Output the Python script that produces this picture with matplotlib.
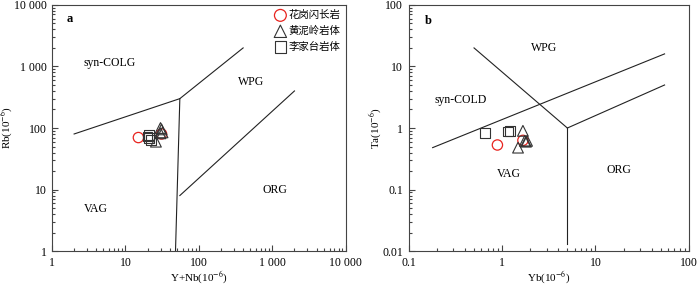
import matplotlib
matplotlib.use("Agg")
import matplotlib.pyplot as plt
from matplotlib.ticker import LogLocator, FixedLocator, NullFormatter

plt.rcParams['font.family'] = ['Liberation Serif', 'DejaVu Serif']
plt.rcParams['mathtext.fontset'] = 'stix'

# a: Rb vs Y+Nb
a_circle_x = [15, 31]
a_circle_y = [70, 80]
a_tri_x = [30, 31, 32, 26, 30]
a_tri_y = [100, 95, 85, 60, 82]
a_sq_x = [20, 21, 22, 21]
a_sq_y = [73, 68, 63, 76]

# b: Ta vs Yb
b_circle_x = [0.89, 1.67]
b_circle_y = [0.53, 0.63]
b_tri_x = [1.67, 1.75, 1.8, 1.85, 1.48]
b_tri_y = [0.9, 0.62, 0.6, 0.62, 0.48]
b_sq_x = [0.66, 1.15, 1.22]
b_sq_y = [0.84, 0.88, 0.9]

legend_labels = ['花岗闪长岩', '黄泥岭岩体', '李家台岩体']

# boundary lines
a_lines = [([2, 55, 400], [80, 300, 2000]),
           ([48, 55], [1, 300]),
           ([55, 2000], [8, 400])]
b_lines = [([0.5, 5], [20, 1]),
           ([5, 5], [1, 0.013]),
           ([5, 55], [1, 5]),
           ([0.18, 55], [0.48, 16])]

fig = plt.figure(figsize=(7, 2.88), dpi=100)
ax1 = fig.add_axes([0.0743, 0.128, 0.4197, 0.855])
ax2 = fig.add_axes([0.584, 0.128, 0.4, 0.855])

lab = r'(10$^{-6}$)'


def style(ax, xlim, ylim, xt, xtl, yt, ytl):
    ax.set_xscale('log')
    ax.set_yscale('log')
    ax.set_xlim(*xlim)
    ax.set_ylim(*ylim)
    ax.xaxis.set_major_locator(FixedLocator(xt))
    ax.yaxis.set_major_locator(FixedLocator(yt))
    ax.set_xticklabels(xtl)
    ax.set_yticklabels(ytl)
    ax.xaxis.set_minor_locator(LogLocator(base=10, subs=range(2, 10), numticks=20))
    ax.yaxis.set_minor_locator(LogLocator(base=10, subs=range(2, 10), numticks=20))
    ax.xaxis.set_minor_formatter(NullFormatter())
    ax.yaxis.set_minor_formatter(NullFormatter())
    ax.tick_params(which='both', direction='in', labelsize=8.5, width=0.8, color='#444444')
    ax.tick_params(which='major', length=4, pad=4)
    ax.tick_params(which='minor', length=2.5)
    for s in ax.spines.values():
        s.set_linewidth(0.8)
        s.set_color('#444444')


def points(ax, cx, cy, tx, ty, sx, sy):
    h1 = ax.scatter(cx, cy, s=55, marker='o', facecolors='none', edgecolors='#e8231e', linewidths=0.9, zorder=3)
    h2 = ax.scatter(tx, ty, s=60, marker='^', facecolors='none', edgecolors='#333333', linewidths=0.8, zorder=3)
    h3 = ax.scatter(sx, sy, s=50, marker='s', facecolors='none', edgecolors='#333333', linewidths=0.8, zorder=3)
    return h1, h2, h3


style(ax1, (1, 10000), (1, 10000), [1, 10, 100, 1000, 10000],
      ['1', '10', '100', '1 000', '10 000'], [1, 10, 100, 1000, 10000],
      ['1', '10', '100', '1 000', '10 000'])
for xs, ys in a_lines:
    ax1.plot(xs, ys, color='#222222', lw=0.8)
h = points(ax1, a_circle_x, a_circle_y, a_tri_x, a_tri_y, a_sq_x, a_sq_y)
ax1.set_xlabel('Y+Nb' + lab, fontsize=8, labelpad=1)
ax1.set_ylabel('Rb' + lab, fontsize=8, labelpad=-1)
ax1.text(1.6, 6000, 'a', fontsize=9, fontweight='bold', va='center')
ax1.text(6.1, 1120, 'syn-COLG', fontsize=8.5, ha='center', va='center')
ax1.text(510, 550, 'WPG', fontsize=8.5, ha='center', va='center')
ax1.text(1100, 10, 'ORG', fontsize=8.5, ha='center', va='center')
ax1.text(4, 4.8, 'VAG', fontsize=8.5, ha='center', va='center')
ax1.legend(h, legend_labels, loc='upper right', frameon=False,
           prop={'family': ['Noto Sans CJK SC'], 'size': 7.5},
           handletextpad=0.2, labelspacing=0.55, borderaxespad=0.1,
           handlelength=1.2, scatterpoints=1, markerscale=1.15)

style(ax2, (0.1, 100), (0.01, 100), [0.1, 1, 10, 100],
      ['0.1', '1', '10', '100'], [0.01, 0.1, 1, 10, 100],
      ['0.01', '0.1', '1', '10', '100'])
for xs, ys in b_lines:
    ax2.plot(xs, ys, color='#222222', lw=0.8)
points(ax2, b_circle_x, b_circle_y, b_tri_x, b_tri_y, b_sq_x, b_sq_y)
ax2.set_xlabel('Yb' + lab, fontsize=8, labelpad=1)
ax2.set_ylabel('Ta' + lab, fontsize=8, labelpad=-1)
ax2.text(0.15, 55, 'b', fontsize=9, fontweight='bold', va='center')
ax2.text(2.8, 20, 'WPG', fontsize=8.5, ha='center', va='center')
ax2.text(0.36, 2.8, 'syn-COLD', fontsize=8.5, ha='center', va='center')
ax2.text(1.17, 0.18, 'VAG', fontsize=8.5, ha='center', va='center')
ax2.text(18, 0.21, 'ORG', fontsize=8.5, ha='center', va='center')

fig.savefig('out.png', dpi=100)
